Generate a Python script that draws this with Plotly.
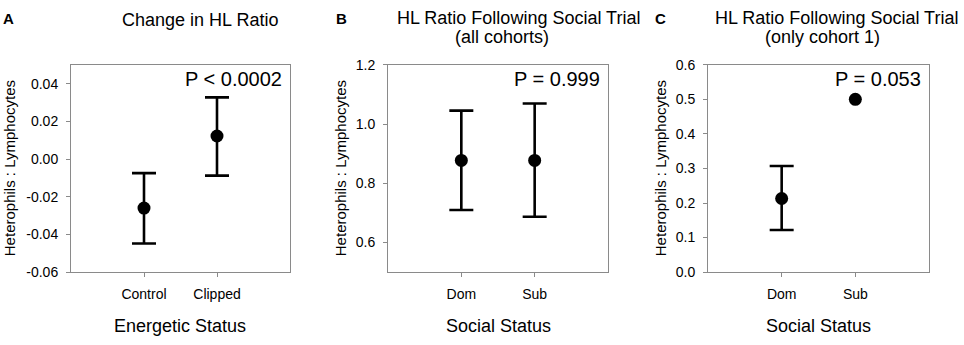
import plotly.graph_objects as go

# ---- data ----
cats_a = ["Control", "Clipped"]
mean_a = [-0.026, 0.0122]
upper_a = [-0.0075, 0.0327]
lower_a = [-0.0448, -0.0088]

cats_b = ["Dom", "Sub"]
mean_b = [0.877, 0.877]
upper_b = [1.045, 1.069]
lower_b = [0.710, 0.687]

cats_c = ["Dom", "Sub"]
mean_c = [0.213, 0.500]
upper_c = [0.307, None]
lower_c = [0.122, None]

yticks_a = [-0.06, -0.04, -0.02, 0.00, 0.02, 0.04]
yticks_b = [0.6, 0.8, 1.0, 1.2]
yticks_c = [0.0, 0.1, 0.2, 0.3, 0.4, 0.5, 0.6]

titles = ["Change in HL Ratio", "HL Ratio Following Social Trial", "HL Ratio Following Social Trial"]
subtitles = [None, "(all cohorts)", "(only cohort 1)"]
xtitles = ["Energetic Status", "Social Status", "Social Status"]
ptexts = ["P < 0.0002", "P = 0.999", "P = 0.053"]
panel_letters = ["A", "B", "C"]
ytitle = "Heterophils : Lymphocytes"

W, H = 964, 345
FONT = "Arial, Liberation Sans, sans-serif"
GREY = "#8a8a8a"

fig = go.Figure()

panels = [
    (cats_a, mean_a, upper_a, lower_a, yticks_a, [-0.06, 0.05], "%.2f"),
    (cats_b, mean_b, upper_b, lower_b, yticks_b, [0.5, 1.2], "%.1f"),
    (cats_c, mean_c, upper_c, lower_c, yticks_c, [0.0, 0.6], "%.1f"),
]
xdoms_px = [(71, 290), (388, 608), (708, 929)]
ydom = [1 - 277 / H, 1 - 59.5 / H]

for i, (cats, m, up, lo, yt, yr, fmt) in enumerate(panels):
    sfx = "" if i == 0 else str(i + 1)
    xs = list(range(1, len(cats) + 1))
    # error bars only for points that have them
    ex, ey, eplus, eminus = [], [], [], []
    for x, v, u, l in zip(xs, m, up, lo):
        if u is not None and l is not None:
            ex.append(x); ey.append(v); eplus.append(u - v); eminus.append(v - l)
    fig.add_trace(go.Scatter(
        x=ex, y=ey, mode="markers", marker=dict(color="black", size=1, opacity=0),
        error_y=dict(type="data", array=eplus, arrayminus=eminus, symmetric=False,
                     color="black", thickness=2.6, width=12),
        xaxis="x" + sfx, yaxis="y" + sfx, showlegend=False, hoverinfo="skip",
    ))
    fig.add_trace(go.Scatter(
        x=xs, y=m, mode="markers", marker=dict(color="black", size=13),
        xaxis="x" + sfx, yaxis="y" + sfx, showlegend=False, hoverinfo="skip",
    ))
    x0, x1 = xdoms_px[i]
    fig.layout["xaxis" + sfx] = dict(
        domain=[x0 / W, x1 / W], range=[0, 3], anchor="y" + sfx,
        tickvals=xs, ticktext=cats, showline=True, mirror=True, linecolor=GREY,
        linewidth=1, ticks="outside", ticklen=4, tickcolor=GREY, showgrid=False,
        zeroline=False, tickfont=dict(family=FONT, size=14, color="black"),
        ticklabelstandoff=5,
    )
    fig.layout["yaxis" + sfx] = dict(
        domain=ydom, range=yr, anchor="x" + sfx,
        tickvals=yt, ticktext=[(fmt % v) for v in yt],
        showline=True, mirror=True, linecolor=GREY, linewidth=1,
        ticks="outside", ticklen=4, tickcolor=GREY, showgrid=False, zeroline=False,
        tickfont=dict(family=FONT, size=14, color="black"), ticklabelstandoff=5,
    )

ann = []
title_pos = [(200, 13), (518, 11), (836, 11)]
sub_pos = [None, (502, 30), (822, 30)]
ytitle_x = [9, 340, 660]
xtitle_x = [180, 498, 818]
letter_x = [8, 341, 660]
for i in range(3):
    sfx = "" if i == 0 else str(i + 1)
    tx, ty = title_pos[i]
    ann.append(dict(x=tx / W, y=1 - ty / H, xref="paper", yref="paper", text=titles[i],
                    showarrow=False, xanchor="center", yanchor="middle",
                    font=dict(family=FONT, size=18, color="black")))
    if subtitles[i]:
        sx, sy = sub_pos[i]
        ann.append(dict(x=sx / W, y=1 - sy / H, xref="paper", yref="paper", text=subtitles[i],
                        showarrow=False, xanchor="center", yanchor="middle",
                        font=dict(family=FONT, size=18, color="black")))
    ann.append(dict(x=xtitle_x[i] / W, y=1 - 333 / H, xref="paper", yref="paper",
                    text=xtitles[i], showarrow=False, xanchor="center", yanchor="middle",
                    font=dict(family=FONT, size=18, color="black")))
    ann.append(dict(x=ytitle_x[i] / W, y=1 - 168 / H, xref="paper", yref="paper",
                    text=ytitle, textangle=-90, showarrow=False, xanchor="center",
                    yanchor="middle", font=dict(family=FONT, size=15, color="black")))
    ann.append(dict(x=1, y=1, xref="x" + sfx + " domain", yref="y" + sfx + " domain",
                    text=ptexts[i], showarrow=False, xanchor="right", yanchor="middle",
                    xshift=-6, yshift=-14, font=dict(family=FONT, size=20, color="black")))
    ann.append(dict(x=letter_x[i] / W, y=1 - 11 / H, xref="paper", yref="paper",
                    text="<b>" + panel_letters[i] + "</b>", showarrow=False,
                    xanchor="center", yanchor="middle",
                    font=dict(family=FONT, size=15, color="black")))

fig.update_layout(
    width=W, height=H, margin=dict(l=0, r=0, t=0, b=0),
    paper_bgcolor="white", plot_bgcolor="white", annotations=ann,
    font=dict(family=FONT, color="black"),
)

fig.write_html("out.html", config={"displayModeBar": False},
               post_script="document.body.style.margin='0';")
